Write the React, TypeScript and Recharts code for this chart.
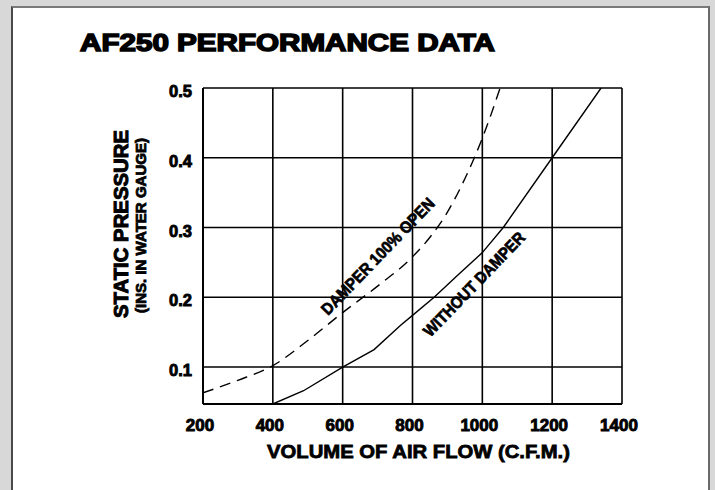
import { LineChart, Line, XAxis, YAxis, CartesianGrid, ReferenceDot } from 'recharts'

// readings
const cfmWithout = [400, 488, 600, 690, 766, 800, 862, 930, 1000, 1060, 1200, 1340]
const pressureWithout = [0.047, 0.066, 0.1, 0.125, 0.16, 0.174, 0.2, 0.232, 0.264, 0.3, 0.4, 0.5]

const cfmDamper = [200, 300, 400, 500, 600, 700, 800, 850, 900, 950, 1000, 1051]
const pressureDamper = [0.063, 0.081, 0.102, 0.138, 0.178, 0.216, 0.258, 0.286, 0.322, 0.37, 0.428, 0.5]

const xTicks = [200, 400, 600, 800, 1000, 1200, 1400]
const yTicks = [0.1, 0.2, 0.3, 0.4, 0.5]

const damperLabel = { cfm: 700, pressure: 0.259, text: 'DAMPER 100% OPEN', length: 155 }
const withoutLabel = { cfm: 976, pressure: 0.219, text: 'WITHOUT DAMPER', length: 138 }

const withoutData = cfmWithout.map((cfm, i) => ({ cfm, p: pressureWithout[i] }))
const damperData = cfmDamper.map((cfm, i) => ({ cfm, p: pressureDamper[i] }))

const FONT = "'Liberation Sans', Arial, Helvetica, sans-serif"

function XTick(props: any) {
  const { x, y, payload } = props
  return (
    <text x={x - 3} y={y + 27} textAnchor="middle" fontFamily={FONT} fontWeight="bold" fontSize={17}
      fill="#000" stroke="#000" strokeWidth={0.9}>
      {payload.value}
    </text>
  )
}

function YTick(props: any) {
  const { x, y, payload } = props
  return (
    <text x={x - 11} y={y + 9} textAnchor="end" fontFamily={FONT} fontWeight="bold" fontSize={16.5}
      fill="#000" stroke="#000" strokeWidth={0.9}>
      {payload.value.toFixed(1)}
    </text>
  )
}

function curveLabel(text: string, length: number) {
  return (props: any) => {
    const { cx, cy } = props
    return (
      <text transform={`translate(${cx},${cy}) rotate(-46)`} x={0} y={6} textAnchor="middle"
        fontFamily={FONT} fontWeight="bold" fontSize={16.5} textLength={length} lengthAdjust="spacingAndGlyphs"
        fill="#000" stroke="#000" strokeWidth={0.7}>
        {text}
      </text>
    )
  }
}

export default function App() {
  return (
    <div style={{ position: 'absolute', left: 0, top: 0, width: 715, height: 490, overflow: 'hidden', background: '#d8d8d8' }}>
      <div style={{
        position: 'absolute', left: 11, top: 6, width: 699, height: 500, background: '#fff',
        borderLeft: '2px solid #4a4a4a', borderTop: '2px solid #7a7a7a', borderRight: '2px solid #6a6a6a',
        boxSizing: 'border-box',
      }} />
      <div style={{ position: 'absolute', left: 0, top: 0 }}>
        <LineChart width={715} height={490} margin={{ top: 88, right: 93, bottom: 56, left: 143 }}>
          <CartesianGrid stroke="#000" strokeWidth={1.6} fill="none" />
          <XAxis type="number" dataKey="cfm" domain={[200, 1400]} ticks={xTicks} allowDataOverflow
            height={30} tickSize={0} tickMargin={0} tickLine={false} interval={0}
            axisLine={{ stroke: '#000', strokeWidth: 2 }} tick={<XTick />} />
          <YAxis type="number" dataKey="p" domain={[0.047, 0.5]} ticks={yTicks} allowDataOverflow
            width={60} tickSize={0} tickMargin={0} tickLine={false} interval={0}
            axisLine={{ stroke: '#000', strokeWidth: 2 }} tick={<YTick />} />
          <Line data={damperData} dataKey="p" type="monotone" stroke="#000" strokeWidth={1.4}
            strokeDasharray="11 7" dot={false} activeDot={false} isAnimationActive={false} />
          <Line data={withoutData} dataKey="p" type="linear" stroke="#000" strokeWidth={1.4}
            dot={false} activeDot={false} isAnimationActive={false} />
          <ReferenceDot x={damperLabel.cfm} y={damperLabel.pressure} r={1}
            shape={curveLabel(damperLabel.text, damperLabel.length)} />
          <ReferenceDot x={withoutLabel.cfm} y={withoutLabel.pressure} r={1}
            shape={curveLabel(withoutLabel.text, withoutLabel.length)} />
        </LineChart>
      </div>
      <svg width={715} height={490} style={{ position: 'absolute', left: 0, top: 0, pointerEvents: 'none' }}>
        <text x={80} y={51} fontFamily={FONT} fontWeight="bold" fontSize={24} textLength={415}
          lengthAdjust="spacingAndGlyphs" fill="#000" stroke="#000" strokeWidth={1.5}>
          AF250 PERFORMANCE DATA
        </text>
        <text transform="translate(128,224) rotate(-90)" textAnchor="middle" fontFamily={FONT} fontWeight="bold"
          fontSize={20} textLength={188} lengthAdjust="spacingAndGlyphs" fill="#000" stroke="#000" strokeWidth={1}>
          STATIC PRESSURE
        </text>
        <text transform="translate(146,225.5) rotate(-90)" textAnchor="middle" fontFamily={FONT} fontWeight="bold"
          fontSize={15} textLength={175} lengthAdjust="spacingAndGlyphs" fill="#000" stroke="#000" strokeWidth={0.8}>
          (INS. IN WATER GAUGE)
        </text>
        <text x={418.5} y={458} textAnchor="middle" fontFamily={FONT} fontWeight="bold" fontSize={19}
          textLength={303} lengthAdjust="spacingAndGlyphs" fill="#000" stroke="#000" strokeWidth={0.8}>
          VOLUME OF AIR FLOW (C.F.M.)
        </text>
      </svg>
    </div>
  )
}
